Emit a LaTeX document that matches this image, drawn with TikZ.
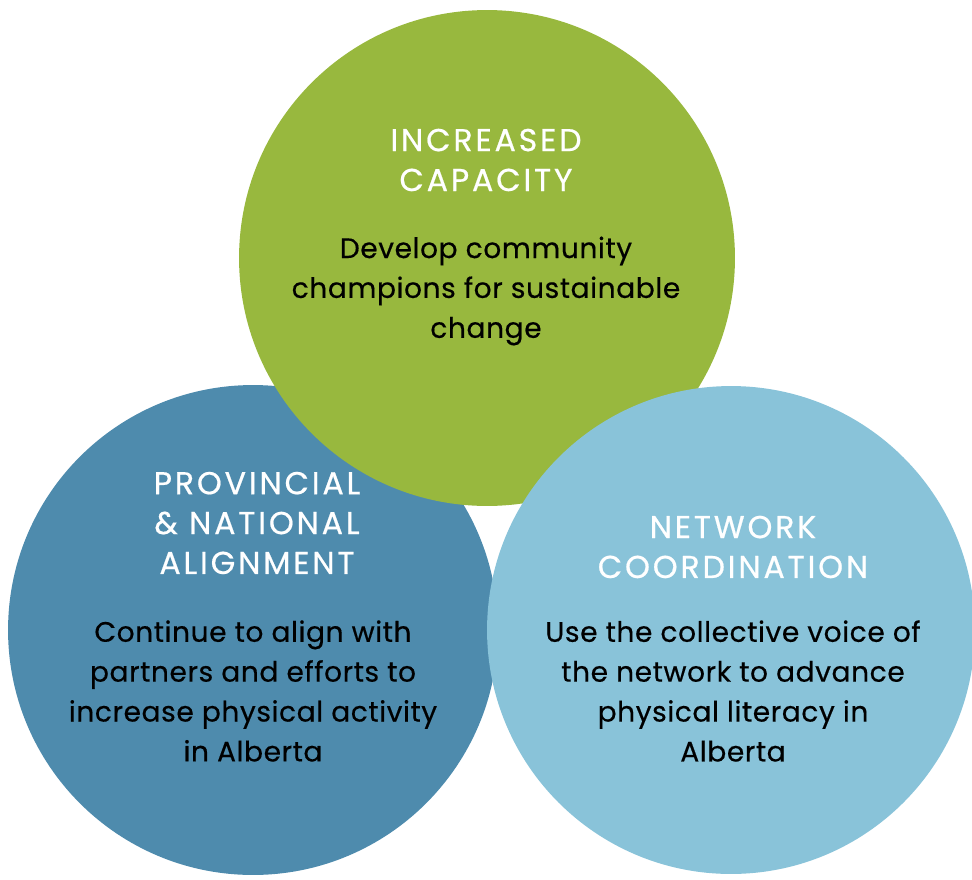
\documentclass[tikz,border=0pt]{standalone}
\usepackage{fontspec}
\setmainfont{Poppins}
\newfontfamily\headfont{Poppins}[LetterSpace=9,FakeBold=0.6]
\newfontfamily\bodyfont{Poppins}[LetterSpace=2,FakeBold=0.4]
\usetikzlibrary{positioning}
\definecolor{capgreen}{HTML}{98B83E}
\definecolor{alignblue}{HTML}{4E8BAD}
\definecolor{netblue}{HTML}{89C3D9}
\begin{document}
\begin{tikzpicture}[
  x=0.02cm, y=-0.02cm,
  disc/.style={circle, inner sep=0pt, draw=none},
  head/.style={text=white, align=center, inner sep=0pt,
               font=\headfont\fontsize{18}{22.7}\selectfont},
  body/.style={text=black, align=center, inner sep=0pt,
               font=\bodyfont\fontsize{16}{22.7}\selectfont},
]
  \useasboundingbox (0,0) rectangle (972,879);
  \clip (0,0) rectangle (972,879);

  \node[disc, fill=alignblue, minimum size=9.8cm]  (align) at (253,630) {};
  \node[disc, fill=capgreen,  minimum size=9.92cm] (cap)   at (487,258) {};
  \node[disc, fill=netblue,   minimum size=9.76cm] (net)   at (731,630) {};

  \node[head] (capT)   at (486,160) {INCREASED\\CAPACITY};
  \node[body] (capB)   at (486,291) {Develop community\\champions for sustainable\\change};

  \node[head] (alignT) at (257,523) {PROVINCIAL\\\& NATIONAL\\ALIGNMENT};
  \node[body] (alignB) at (253,691) {Continue to align with\\partners and efforts to\\increase physical activity\\in Alberta};

  \node[head] (netT)   at (733,547) {NETWORK\\COORDINATION};
  \node[body] (netB)   at (733,691) {Use the collective voice of\\the network to advance\\physical literacy in\\Alberta};
\end{tikzpicture}
\end{document}
